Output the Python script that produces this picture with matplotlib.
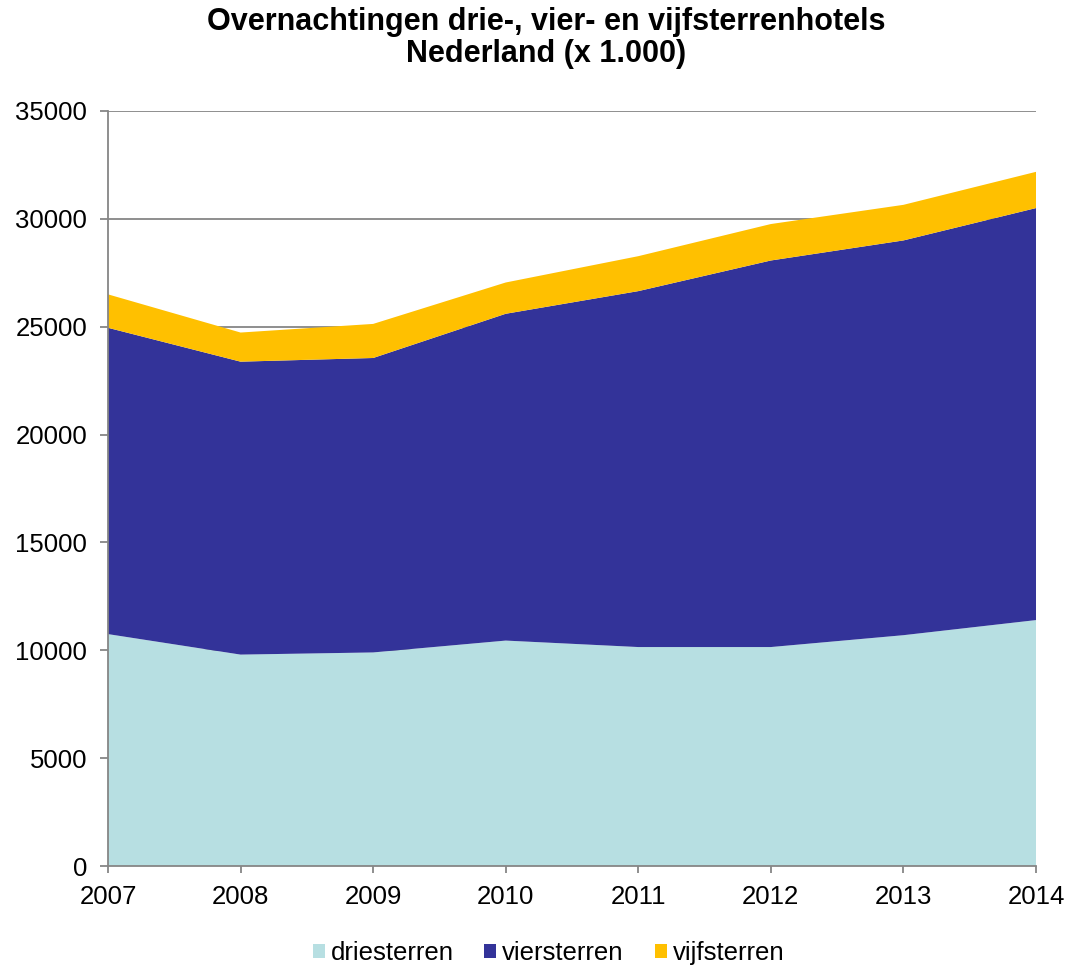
import matplotlib
matplotlib.use("Agg")
import matplotlib.pyplot as plt
from matplotlib.patches import Patch

plt.rcParams['font.family'] = ['Liberation Sans', 'DejaVu Sans']

years = [2007, 2008, 2009, 2010, 2011, 2012, 2013, 2014]
driesterren = [10750, 9800, 9900, 10450, 10150, 10150, 10700, 11400]
viersterren = [14200, 13580, 13650, 15150, 16500, 17920, 18300, 19100]
vijfsterren = [1550, 1350, 1580, 1450, 1620, 1690, 1650, 1680]

labels = ['driesterren', 'viersterren', 'vijfsterren']
colors = ['#B7DFE2', '#333399', '#FFC000']

fig = plt.figure(figsize=(10.67, 9.65), dpi=100)
ax = fig.add_axes([108 / 1067, 1 - 866 / 965, (1036 - 108) / 1067, (866 - 111) / 965])

ax.stackplot(years, driesterren, viersterren, vijfsterren, colors=colors, labels=labels, zorder=2)

ax.set_xlim(2007, 2014)
ax.set_ylim(0, 35000)
ax.set_xticks(years)
ax.set_yticks(range(0, 35001, 5000))
ax.yaxis.grid(True, color='#868686', linewidth=1.3, zorder=1)
ax.set_axisbelow(True)

for side in ['top', 'right']:
    ax.spines[side].set_visible(False)
for side in ['left', 'bottom']:
    ax.spines[side].set_color('#868686')
    ax.spines[side].set_linewidth(1.3)
ax.tick_params(axis='both', labelsize=18.5, colors='#868686', labelcolor='black',
               direction='out', length=6, width=1.3)
ax.tick_params(axis='y', pad=9)
ax.tick_params(axis='x', length=5, pad=9)

fig.text(0.512, 0.9605, 'Overnachtingen drie-, vier- en vijfsterrenhotels\nNederland (x 1.000)',
         ha='center', va='center', fontsize=22, fontweight='bold', linespacing=1.1)

handles = [Patch(facecolor=c, edgecolor='none') for c in colors]
fig.legend(handles, labels, loc='center', bbox_to_anchor=(0.514, 0.0125), ncol=3, frameon=False,
           fontsize=18.5, handlelength=0.47, handleheight=0.47, handletextpad=0.23,
           columnspacing=1.2, borderaxespad=0)

fig.savefig('out.png', dpi=100)
